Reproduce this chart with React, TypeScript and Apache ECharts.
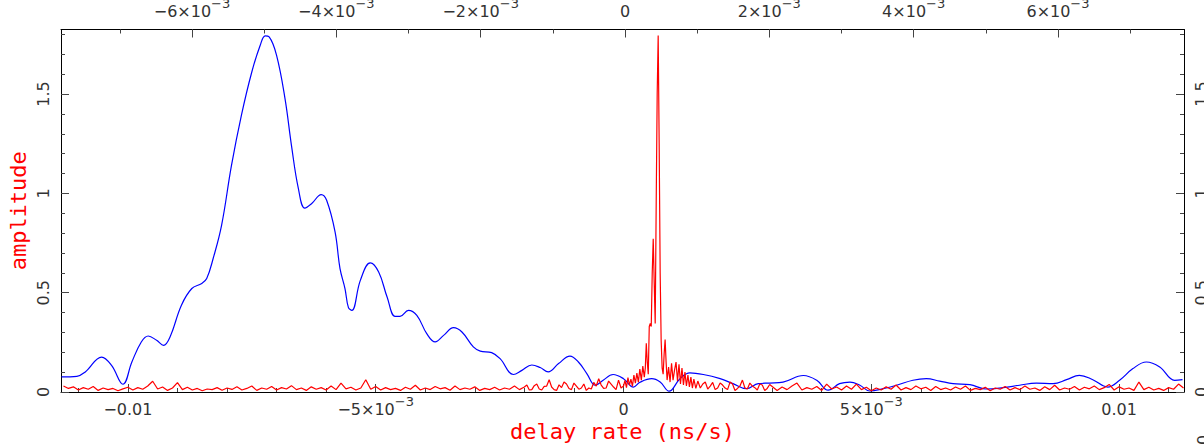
import React, { useEffect, useRef } from 'react';
import * as echarts from 'echarts';

// ---------- axis ranges ----------
const delayRateMin = -0.01135;
const delayRateMax = 0.01131;
const topScaleMin = -0.007815;
const topScaleMax = 0.007746;
const amplitudeMax = 1.825;

// ---------- ticks & tick labels ----------
const bottomMajorTicks = [-0.01, -0.005, 0, 0.005, 0.01];
const bottomTickLabels: [string, string][] = [
  ['−0.01', ''], ['−5×10', '−3'], ['0', ''], ['5×10', '−3'], ['0.01', ''],
];
const bottomMinorTicks = [
  -0.011, -0.01, -0.009, -0.008, -0.007, -0.006, -0.005, -0.004, -0.003, -0.002, -0.001,
  0, 0.001, 0.002, 0.003, 0.004, 0.005, 0.006, 0.007, 0.008, 0.009, 0.01, 0.011,
];
const topMajorTicks = [-0.006, -0.004, -0.002, 0, 0.002, 0.004, 0.006];
const topTickLabels: [string, string][] = [
  ['−6×10', '−3'], ['−4×10', '−3'], ['−2×10', '−3'], ['0', ''], ['2×10', '−3'], ['4×10', '−3'], ['6×10', '−3'],
];
const topMinorTicks = [
  -0.007, -0.006, -0.005, -0.004, -0.003, -0.002, -0.001, 0, 0.001, 0.002, 0.003, 0.004, 0.005, 0.006, 0.007,
];
const ampMajorTicks = [0, 0.5, 1, 1.5];
const ampTickLabels = ['0', '0.5', '1', '1.5'];
const ampMinorTicks = [0, 0.1, 0.2, 0.3, 0.4, 0.5, 0.6, 0.7, 0.8, 0.9, 1, 1.1, 1.2, 1.3, 1.4, 1.5, 1.6, 1.7, 1.8];

// ---------- series: blue (smooth) ----------
const blueCurve: [number, number][] = [
  [-0.01134, 0.076], [-0.01103, 0.079], [-0.01086, 0.101], [-0.01053, 0.176], [-0.01033, 0.134],
  [-0.0101, 0.039], [-0.00992, 0.151], [-0.00973, 0.252], [-0.00959, 0.282], [-0.00942, 0.26],
  [-0.00928, 0.235], [-0.00915, 0.277], [-0.00892, 0.437], [-0.00871, 0.521], [-0.00851, 0.546],
  [-0.00841, 0.571], [-0.00828, 0.672], [-0.00811, 0.839], [-0.00791, 1.141], [-0.00771, 1.393],
  [-0.0075, 1.611], [-0.00733, 1.746], [-0.00723, 1.793], [-0.00715, 1.788], [-0.007, 1.695],
  [-0.00683, 1.477], [-0.0067, 1.242], [-0.00656, 1.024], [-0.00643, 0.926], [-0.00629, 0.949],
  [-0.0061, 0.994], [-0.00599, 0.965], [-0.00582, 0.806], [-0.00572, 0.621], [-0.00562, 0.521],
  [-0.00555, 0.425], [-0.00548, 0.411], [-0.00531, 0.562], [-0.00511, 0.65], [-0.00494, 0.604],
  [-0.00477, 0.478], [-0.00461, 0.381], [-0.00451, 0.381], [-0.00434, 0.411], [-0.00417, 0.386],
  [-0.00397, 0.294], [-0.0038, 0.252], [-0.00363, 0.285], [-0.00343, 0.324], [-0.00326, 0.302],
  [-0.00303, 0.227], [-0.00289, 0.206], [-0.00266, 0.198], [-0.00249, 0.168], [-0.00222, 0.088],
  [-0.00205, 0.109], [-0.00185, 0.136], [-0.00168, 0.123], [-0.00152, 0.101], [-0.00131, 0.143],
  [-0.00108, 0.181], [-0.00091, 0.151], [-0.00074, 0.093], [-0.00057, 0.034], [-0.00041, 0.059],
  [-0.00021, 0.088], [0.0, 0.067], [0.0002, 0.025], [0.00033, 0.049], [0.00057, 0.067],
  [0.00074, 0.05], [0.00092, 0.004], [0.00114, 0.067], [0.00134, 0.096], [0.00161, 0.088],
  [0.00195, 0.067], [0.00221, 0.042], [0.00248, 0.017], [0.00272, 0.042], [0.00295, 0.045],
  [0.00322, 0.05], [0.00363, 0.083], [0.0039, 0.059], [0.00413, 0.009], [0.00436, 0.042],
  [0.00457, 0.05], [0.00477, 0.034], [0.00497, 0.005], [0.00524, 0.017], [0.00551, 0.034],
  [0.00584, 0.059], [0.00611, 0.067], [0.00638, 0.055], [0.00665, 0.042], [0.00699, 0.037],
  [0.00732, 0.015], [0.00766, 0.022], [0.00799, 0.034], [0.00833, 0.045], [0.00867, 0.042],
  [0.00894, 0.062], [0.0092, 0.084], [0.00947, 0.062], [0.00977, 0.025], [0.01001, 0.059],
  [0.01028, 0.118], [0.01055, 0.151], [0.01082, 0.126], [0.01112, 0.059], [0.01128, 0.062],
];

// ---------- series: red (noisy fringe spectrum) ----------
const redCurve: [number, number][] = [
  [-0.0113, 0.03], [-0.0112, 0.018], [-0.0111, 0.026], [-0.011, 0.01], [-0.0109, 0.022],
  [-0.0108, 0.014], [-0.0107, 0.028], [-0.0106, 0.008], [-0.0105, 0.02], [-0.0104, 0.012],
  [-0.0103, 0.018], [-0.0102, 0.006], [-0.0101, 0.016], [-0.01, 0.024], [-0.0099, 0.01],
  [-0.0098, 0.022], [-0.0097, 0.014], [-0.0096, 0.03], [-0.0095, 0.054], [-0.0094, 0.015],
  [-0.0093, 0.025], [-0.0092, 0.008], [-0.0091, 0.02], [-0.009, 0.047], [-0.0089, 0.012],
  [-0.0088, 0.024], [-0.0087, 0.01], [-0.0086, 0.018], [-0.0085, 0.006], [-0.0084, 0.015],
  [-0.0083, 0.012], [-0.0082, 0.022], [-0.0081, 0.009], [-0.008, 0.02], [-0.0079, 0.013],
  [-0.0078, 0.026], [-0.0077, 0.01], [-0.0076, 0.018], [-0.0075, 0.03], [-0.0074, 0.008],
  [-0.0073, 0.02], [-0.0072, 0.014], [-0.0071, 0.028], [-0.007, 0.01], [-0.0069, 0.022],
  [-0.0068, 0.015], [-0.0067, 0.032], [-0.0066, 0.012], [-0.0065, 0.02], [-0.0064, 0.008],
  [-0.0063, 0.026], [-0.0062, 0.014], [-0.0061, 0.022], [-0.006, 0.01], [-0.0059, 0.03],
  [-0.0058, 0.012], [-0.0057, 0.045], [-0.0056, 0.016], [-0.0055, 0.024], [-0.0054, 0.01],
  [-0.0053, 0.02], [-0.0052, 0.062], [-0.0051, 0.014], [-0.005, 0.028], [-0.0049, 0.01],
  [-0.0048, 0.022], [-0.0047, 0.012], [-0.0046, 0.018], [-0.0045, 0.008], [-0.0044, 0.024],
  [-0.0043, 0.014], [-0.0042, 0.034], [-0.0041, 0.01], [-0.004, 0.02], [-0.0039, 0.012],
  [-0.0038, 0.028], [-0.0037, 0.016], [-0.0036, 0.022], [-0.0035, 0.009], [-0.0034, 0.03],
  [-0.0033, 0.012], [-0.0032, 0.02], [-0.0031, 0.014], [-0.003, 0.026], [-0.0029, 0.008],
  [-0.0028, 0.018], [-0.0027, 0.012], [-0.0026, 0.024], [-0.0025, 0.01], [-0.0024, 0.02],
  [-0.0023, 0.014], [-0.0022, 0.03], [-0.0021, 0.012],
  [-0.002, 0.025], [-0.00195, 0.035], [-0.0019, 0.01], [-0.00185, 0.012], [-0.0018, 0.032],
  [-0.00175, 0.04], [-0.0017, 0.015], [-0.00165, 0.01], [-0.0016, 0.028], [-0.00155, 0.03],
  [-0.0015, 0.062], [-0.00145, 0.025], [-0.0014, 0.012], [-0.00135, 0.008], [-0.0013, 0.036],
  [-0.00125, 0.022], [-0.0012, 0.05], [-0.00115, 0.04], [-0.0011, 0.018], [-0.00105, 0.012],
  [-0.001, 0.045], [-0.00095, 0.03], [-0.0009, 0.014], [-0.00085, 0.02], [-0.0008, 0.04],
  [-0.00075, 0.008], [-0.0007, 0.02], [-0.00065, 0.015], [-0.0006, 0.048], [-0.00055, 0.03],
  [-0.0005, 0.067], [-0.00045, 0.035], [-0.0004, 0.018], [-0.00035, 0.02], [-0.0003, 0.055],
  [-0.00025, 0.04], [-0.0002, 0.025], [-0.00015, 0.012], [-0.0001, 0.06], [-0.00005, 0.02],
  [0.0, 0.03],
  [0.00003, 0.058], [0.00006, 0.022], [0.00009, 0.072], [0.00012, 0.035], [0.00015, 0.065],
  [0.00018, 0.028], [0.00021, 0.085], [0.00024, 0.045], [0.00027, 0.095], [0.0003, 0.05],
  [0.00033, 0.115], [0.00036, 0.06], [0.00039, 0.13], [0.00042, 0.075], [0.00044, 0.12],
  [0.00046, 0.245], [0.00048, 0.15], [0.0005, 0.09], [0.00052, 0.33], [0.00054, 0.345],
  [0.00056, 0.33], [0.00058, 0.6], [0.0006, 0.772], [0.00062, 0.55], [0.00064, 0.345],
  [0.00066, 0.95], [0.00068, 1.5], [0.0007, 1.795], [0.00072, 1.25], [0.00074, 0.6],
  [0.00076, 0.26], [0.00078, 0.12], [0.0008, 0.09], [0.00082, 0.19], [0.00084, 0.264],
  [0.00086, 0.15], [0.00088, 0.06], [0.00091, 0.125], [0.00094, 0.05], [0.00097, 0.144],
  [0.001, 0.06], [0.00103, 0.11], [0.00106, 0.151], [0.00109, 0.055], [0.00112, 0.14],
  [0.00115, 0.04], [0.00118, 0.12], [0.00121, 0.035], [0.00124, 0.1], [0.00127, 0.03],
  [0.0013, 0.085], [0.00133, 0.025], [0.00136, 0.075], [0.00139, 0.02], [0.00142, 0.065],
  [0.00146, 0.018], [0.0015, 0.055],
  [0.00155, 0.02], [0.0016, 0.04], [0.00165, 0.05], [0.0017, 0.015], [0.00175, 0.03],
  [0.0018, 0.048], [0.00185, 0.012], [0.0019, 0.02], [0.00195, 0.045], [0.002, 0.035],
  [0.00205, 0.02], [0.0021, 0.012], [0.00215, 0.05], [0.0022, 0.04], [0.00225, 0.008],
  [0.0023, 0.018], [0.00235, 0.03], [0.0024, 0.06], [0.00245, 0.02], [0.0025, 0.015],
  [0.00255, 0.045], [0.0026, 0.03], [0.00265, 0.022], [0.0027, 0.01], [0.00275, 0.04],
  [0.0028, 0.035], [0.00285, 0.008], [0.0029, 0.018], [0.00295, 0.038], [0.003, 0.028],
  [0.0031, 0.008], [0.0032, 0.025], [0.0033, 0.012], [0.0034, 0.03], [0.0035, 0.045],
  [0.0036, 0.01], [0.0037, 0.022], [0.0038, 0.014], [0.0039, 0.028], [0.004, 0.008],
  [0.0041, 0.04], [0.0042, 0.015], [0.0043, 0.025], [0.0044, 0.01], [0.0045, 0.03],
  [0.0046, 0.014], [0.0047, 0.04], [0.0048, 0.012], [0.0049, 0.024], [0.005, 0.006],
  [0.0051, 0.02], [0.0052, 0.01], [0.0053, 0.026], [0.0054, 0.014], [0.0055, 0.035],
  [0.0056, 0.01], [0.0057, 0.022], [0.0058, 0.012], [0.0059, 0.03], [0.006, 0.016],
  [0.0061, 0.024], [0.0062, 0.008], [0.0063, 0.028], [0.0064, 0.012], [0.0065, 0.02],
  [0.0066, 0.01], [0.0067, 0.025], [0.0068, 0.014], [0.0069, 0.03], [0.007, 0.008],
  [0.0071, 0.018], [0.0072, 0.012], [0.0073, 0.024], [0.0074, 0.006], [0.0075, 0.02],
  [0.0076, 0.014], [0.0077, 0.028], [0.0078, 0.01], [0.0079, 0.022], [0.008, 0.012],
  [0.0081, 0.03], [0.0082, 0.014], [0.0083, 0.02], [0.0084, 0.008], [0.0085, 0.026],
  [0.0086, 0.012], [0.0087, 0.034], [0.0088, 0.01], [0.0089, 0.02], [0.009, 0.014],
  [0.0091, 0.028], [0.0092, 0.01], [0.0093, 0.024], [0.0094, 0.016], [0.0095, 0.03],
  [0.0096, 0.012], [0.0097, 0.022], [0.0098, 0.038], [0.0099, 0.01], [0.01, 0.026],
  [0.0101, 0.014], [0.0102, 0.02], [0.0103, 0.008], [0.0104, 0.05], [0.0105, 0.012],
  [0.0106, 0.024], [0.0107, 0.01], [0.0108, 0.018], [0.0109, 0.008], [0.011, 0.022],
  [0.0111, 0.014], [0.0112, 0.04], [0.0113, 0.02],
];

const FONT = "'DejaVu Sans', sans-serif";
const TITLE_FONT = "'DejaVu Sans Mono', monospace";
const TEXT_COLOR = '#333';
const TICK_COLOR = '#444';

const rich = {
  b: { fontFamily: FONT, fontSize: 16, lineHeight: 22, verticalAlign: 'bottom', color: TEXT_COLOR },
  s: { fontFamily: FONT, fontSize: 13, lineHeight: 13, verticalAlign: 'top', color: TEXT_COLOR },
};

function richLabel(ticks: number[], labels: [string, string][]) {
  return (v: number) => {
    const i = ticks.findIndex((t) => Math.abs(t - v) < 1e-12);
    if (i < 0) return '';
    const [base, exp] = labels[i];
    return exp ? `{b|${base}}{s|${exp}}` : `{b|${base}}`;
  };
}

function minorAxis(position: string, min: number, max: number, ticks: number[]) {
  return {
    type: 'value',
    position,
    min,
    max,
    axisLine: { show: false, onZero: false },
    axisTick: { show: true, inside: true, length: 4, customValues: ticks, lineStyle: { color: TICK_COLOR, width: 1 } },
    axisLabel: { show: false },
    splitLine: { show: false },
  };
}

export default function App() {
  const ref = useRef<HTMLDivElement>(null);

  useEffect(() => {
    if (!ref.current) return;
    const chart = echarts.init(ref.current, undefined, { renderer: 'svg' });

    const ampFormatter = (v: number) => {
      const i = ampMajorTicks.findIndex((t) => Math.abs(t - v) < 1e-9);
      return i < 0 ? '' : ampTickLabels[i];
    };

    const option: any = {
      animation: false,
      backgroundColor: '#ffffff',
      grid: {
        left: 61,
        right: 20,
        top: 29.5,
        bottom: 55,
        containLabel: false,
        outerBoundsMode: 'none',
      },
      xAxis: [
        {
          type: 'value',
          position: 'bottom',
          min: delayRateMin,
          max: delayRateMax,
          axisLine: { show: true, onZero: false, lineStyle: { color: '#000', width: 1 } },
          axisTick: { show: true, inside: true, length: 8, customValues: bottomMajorTicks, lineStyle: { color: TICK_COLOR, width: 1 } },
          axisLabel: { show: true, customValues: bottomMajorTicks, margin: 3, formatter: richLabel(bottomMajorTicks, bottomTickLabels), rich },
          splitLine: { show: false },
          name: 'delay rate (ns/s)',
          nameLocation: 'middle',
          nameGap: 28,
          nameMoveOverlap: false,
          nameTextStyle: { color: '#ff0000', fontFamily: TITLE_FONT, fontSize: 22 },
        },
        minorAxis('bottom', delayRateMin, delayRateMax, bottomMinorTicks),
        {
          type: 'value',
          position: 'top',
          min: topScaleMin,
          max: topScaleMax,
          axisLine: { show: true, onZero: false, lineStyle: { color: '#000', width: 1 } },
          axisTick: { show: true, inside: true, length: 8, customValues: topMajorTicks, lineStyle: { color: TICK_COLOR, width: 1 } },
          axisLabel: { show: true, customValues: topMajorTicks, margin: 10.5, formatter: richLabel(topMajorTicks, topTickLabels), rich },
          splitLine: { show: false },
        },
        minorAxis('top', topScaleMin, topScaleMax, topMinorTicks),
      ],
      yAxis: [
        {
          type: 'value',
          position: 'left',
          min: 0,
          max: amplitudeMax,
          axisLine: { show: true, onZero: false, lineStyle: { color: '#000', width: 1 } },
          axisTick: { show: true, inside: true, length: 8, customValues: ampMajorTicks, lineStyle: { color: TICK_COLOR, width: 1 } },
          axisLabel: {
            show: true,
            customValues: ampMajorTicks,
            rotate: 90,
            margin: 10,
            fontFamily: FONT,
            fontSize: 16,
            color: TEXT_COLOR,
            formatter: ampFormatter,
          },
          splitLine: { show: false },
          name: 'amplitude',
          nameLocation: 'middle',
          nameGap: 32,
          nameMoveOverlap: false,
          nameTextStyle: { color: '#ff0000', fontFamily: TITLE_FONT, fontSize: 22 },
        },
        minorAxis('left', 0, amplitudeMax, ampMinorTicks),
        {
          type: 'value',
          position: 'right',
          min: 0,
          max: amplitudeMax,
          axisLine: { show: true, onZero: false, lineStyle: { color: '#000', width: 1 } },
          axisTick: { show: true, inside: true, length: 8, customValues: ampMajorTicks, lineStyle: { color: TICK_COLOR, width: 1 } },
          axisLabel: {
            show: true,
            customValues: ampMajorTicks,
            rotate: 90,
            margin: 9,
            fontFamily: FONT,
            fontSize: 16,
            color: TEXT_COLOR,
            formatter: ampFormatter,
          },
          splitLine: { show: false },
        },
        minorAxis('right', 0, amplitudeMax, ampMinorTicks),
      ],
      graphic: [
        {
          type: 'text',
          x: 1195,
          y: 440,
          rotation: Math.PI / 2,
          style: { text: '0', fill: TEXT_COLOR, font: `16px ${FONT}`, textAlign: 'center', textVerticalAlign: 'top' },
        },
      ],
      series: [
        {
          name: 'blue',
          type: 'line',
          xAxisIndex: 0,
          yAxisIndex: 0,
          data: blueCurve,
          smooth: 0.4,
          showSymbol: false,
          lineStyle: { color: '#0000ff', width: 1.2 },
          itemStyle: { color: '#0000ff' },
          clip: true,
        },
        {
          name: 'red',
          type: 'line',
          xAxisIndex: 0,
          yAxisIndex: 0,
          data: redCurve,
          showSymbol: false,
          lineStyle: { color: '#ff0000', width: 1.2 },
          itemStyle: { color: '#ff0000' },
          clip: true,
        },
      ],
    };

    chart.setOption(option);
    return () => chart.dispose();
  }, []);

  return (
    <div
      ref={ref}
      style={{ position: 'fixed', left: 0, top: 0, width: 1204, height: 447, background: '#fff' }}
    />
  );
}
